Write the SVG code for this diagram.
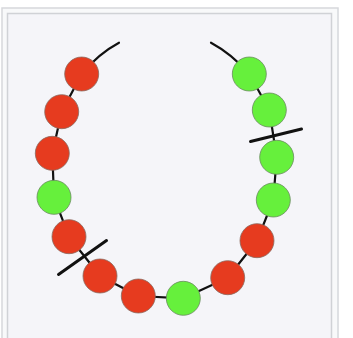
<svg xmlns="http://www.w3.org/2000/svg" width="353" height="338" viewBox="0 0 353 338">
<style>
.frame-outer{fill:#f8f9fa;stroke:#d6d8dc;stroke-width:1.5}
.frame-inner{fill:#f5f5f9;stroke:#d0d2d6;stroke-width:1.5}
.string{fill:none;stroke:#111;stroke-width:2.2;stroke-linejoin:round;stroke-linecap:round}
.cut{stroke:#111;stroke-width:3;stroke-linecap:round}
.red{fill:#e63b1f;stroke:#8a6a60;stroke-width:0.8}
.green{fill:#66f03c;stroke:#6a8a60;stroke-width:0.8}
</style>
<rect class="frame-outer" x="2" y="8" width="336" height="340"/>
<rect class="frame-inner" x="7.5" y="13.5" width="324" height="340"/>
<g id="connectors">
<path class="string" d="M119,42.7 Q98,54 81.7,74 L61.7,111.7 L52.3,153.3 L54,197.3 L69,236.7 L100,276 L138.3,296 L183.3,298.3 L227.7,277.7 L257,240.7 L273.3,200 L276.7,157.3 L269.3,110 L249.3,74 Q232,54 211,42.7"/>
</g>
<g id="beads">
<g id="bead1"><circle class="red" cx="81.7" cy="74" r="17"/></g>
<g id="bead2"><circle class="red" cx="61.7" cy="111.7" r="17"/></g>
<g id="bead3"><circle class="red" cx="52.3" cy="153.3" r="17"/></g>
<g id="bead4"><circle class="green" cx="54" cy="197.3" r="17"/></g>
<g id="bead5"><circle class="red" cx="69" cy="236.7" r="17"/></g>
<g id="bead6"><circle class="red" cx="100" cy="276" r="17"/></g>
<g id="bead7"><circle class="red" cx="138.3" cy="296" r="17"/></g>
<g id="bead8"><circle class="green" cx="183.3" cy="298.3" r="17"/></g>
<g id="bead9"><circle class="red" cx="227.7" cy="277.7" r="17"/></g>
<g id="bead10"><circle class="red" cx="257" cy="240.7" r="17"/></g>
<g id="bead11"><circle class="green" cx="273.3" cy="200" r="17"/></g>
<g id="bead12"><circle class="green" cx="276.7" cy="157.3" r="17"/></g>
<g id="bead13"><circle class="green" cx="269.3" cy="110" r="17"/></g>
<g id="bead14"><circle class="green" cx="249.3" cy="74" r="17"/></g>
</g>
<g id="cuts">
<line class="cut" x1="58.5" y1="274.5" x2="106.5" y2="240.5"/>
<line class="cut" x1="250.5" y1="141.5" x2="301.5" y2="129"/>
</g>
</svg>
